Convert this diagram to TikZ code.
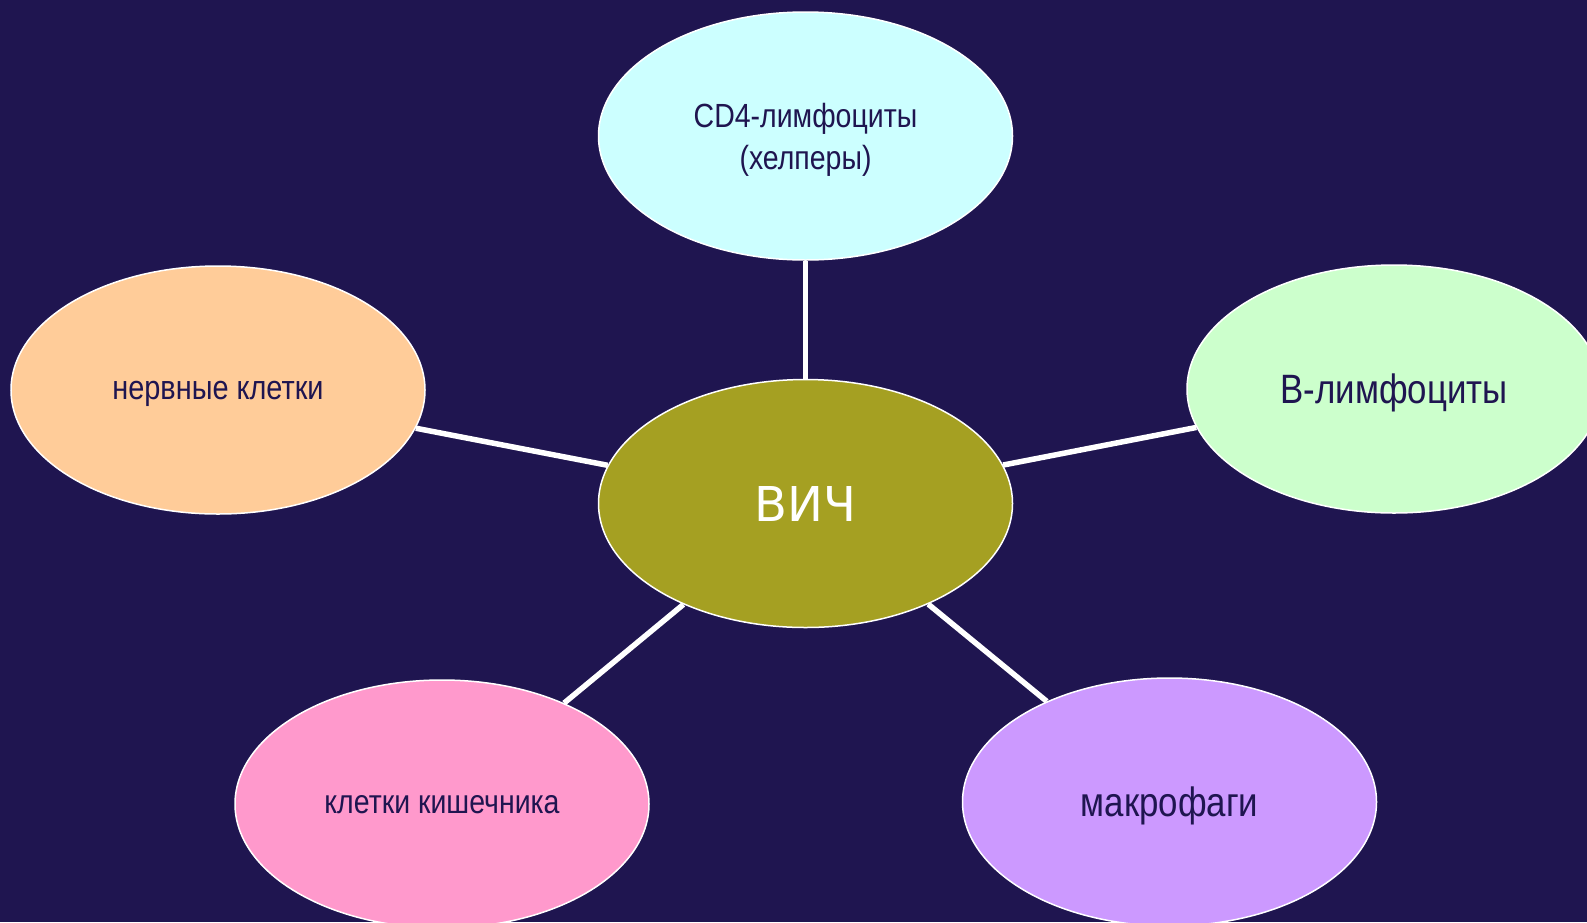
\documentclass[tikz,border=0pt]{standalone}
\usepackage{fontspec}
\setmainfont{Liberation Sans}
\newfontfamily\narrowfont[FakeStretch=0.85]{Liberation Sans}
\newfontfamily\vichfont{DejaVu Sans}
\usetikzlibrary{shapes.geometric}
\definecolor{bg}{HTML}{1F1550}
\definecolor{cyanfill}{HTML}{CCFFFF}
\definecolor{olivefill}{HTML}{A5A022}
\definecolor{greenfill}{HTML}{CCFFCC}
\definecolor{orangefill}{HTML}{FFCC99}
\definecolor{pinkfill}{HTML}{FF99CC}
\definecolor{violetfill}{HTML}{CC99FF}
\begin{document}
\begin{tikzpicture}[x=1pt,y=-1pt,
  blob/.style={ellipse, draw=white, line width=1.5pt, inner sep=0pt,
    minimum width=414pt, minimum height=248pt, text=bg, align=center, text depth=0pt},
  link/.style={draw=white, line width=5.5pt}]
\fill[bg] (0,0) rectangle (1587,922);
\useasboundingbox (0,0) rectangle (1587,922);
\node[blob, fill=olivefill, text=white, font=\vichfont\fontsize{48}{56}\selectfont] (hiv) at (805.5,503.5) {ВИЧ};
\node[blob, fill=cyanfill, font=\narrowfont\fontsize{33.5}{42}\selectfont] (cd4) at (805.5,136) {CD4-лимфоциты\\(хелперы)};
\node[blob, fill=greenfill, font=\narrowfont\fontsize{41}{48}\selectfont] (blym) at (1394,389) {В-лимфоциты};
\node[blob, fill=orangefill, font=\narrowfont\fontsize{34}{42}\selectfont] (nerve) at (218,390) {нервные клетки};
\node[blob, fill=pinkfill, font=\narrowfont\fontsize{33.5}{42}\selectfont] (gut) at (442,804) {клетки кишечника};
\node[blob, fill=violetfill, font=\narrowfont\fontsize{41}{48}\selectfont] (macro) at (1169.5,802) {макрофаги};
\draw[link] (cd4) -- (hiv);
\draw[link] (nerve) -- (hiv);
\draw[link] (blym) -- (hiv);
\draw[link] (gut) -- (hiv);
\draw[link] (macro) -- (hiv);
\end{tikzpicture}
\end{document}
